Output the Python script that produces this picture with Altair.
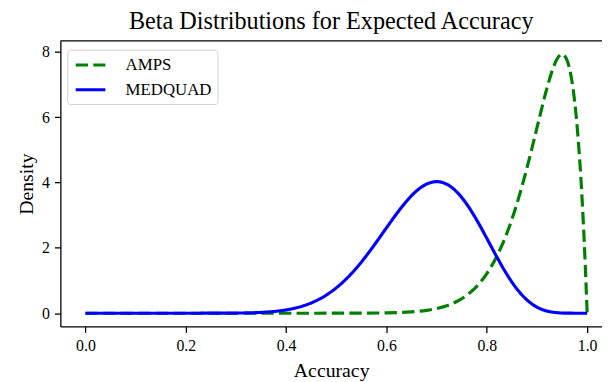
import altair as alt
import pandas as pd

# x positions read along the Accuracy axis
accuracy = [0.0, 0.1, 0.2, 0.25, 0.3, 0.35, 0.4, 0.42, 0.44, 0.46, 0.48, 0.5, 0.52, 0.54,
            0.56, 0.58, 0.6, 0.62, 0.64, 0.66, 0.68, 0.7, 0.72, 0.74, 0.76, 0.78, 0.8,
            0.82, 0.84, 0.85, 0.86, 0.87, 0.88, 0.89, 0.9, 0.91, 0.92, 0.93, 0.94, 0.95,
            0.96, 0.97, 0.98, 0.99, 0.995, 1.0]

amps = [0.0, 0.0, 0.0, 0.0, 0.0, 0.0, 0.0, 0.0, 0.0, 0.0001, 0.0002, 0.0004, 0.0008, 0.0016,
        0.003, 0.0056, 0.0102, 0.0181, 0.0314, 0.0532, 0.0883, 0.1436, 0.229, 0.3578,
        0.5481, 0.8232, 1.2107, 1.742, 2.4473, 2.8731, 3.3487, 3.8739, 4.4424, 5.0475,
        5.6737, 6.2991, 6.8923, 7.4053, 7.7771, 7.9255, 7.7352, 7.0637, 5.7226, 3.4698,
        1.9092, 0.0]

medquad = [0.0, 0.0, 0.0, 0.0005, 0.0046, 0.0254, 0.1019, 0.1647, 0.2559, 0.3833, 0.5546,
           0.7763, 1.0522, 1.3824, 1.7617, 2.1782, 2.6128, 3.0391, 3.427, 3.7415, 3.9506,
           4.0248, 3.9467, 3.7128, 3.3364, 2.8474, 2.2913, 1.7204, 1.1892, 0.9528, 0.742,
           0.5593, 0.406, 0.2822, 0.1862, 0.1155, 0.0664, 0.0347, 0.016, 0.0062, 0.0019,
           0.0002, 0.0, 0.0, 0.0, 0.0]

series = ["AMPS", "MEDQUAD"]
x_ticks = [0.0, 0.2, 0.4, 0.6, 0.8, 1.0]
y_ticks = [0, 2, 4, 6, 8]

rows = []
for name, vals in zip(series, [amps, medquad]):
    for i, (xv, yv) in enumerate(zip(accuracy, vals)):
        rows.append({"Accuracy": xv, "Density": yv, "series": name, "order": i})
df = pd.DataFrame(rows)

FONT = "Liberation Serif"
W, H = 548, 289

lines = alt.Chart(df).mark_line(strokeWidth=3.2, interpolate="monotone").encode(
    x=alt.X("Accuracy:Q", scale=alt.Scale(domain=[-0.05, 1.0296], nice=False, zero=False),
            axis=alt.Axis(values=x_ticks, format=".1f", title="Accuracy")),
    y=alt.Y("Density:Q", scale=alt.Scale(domain=[-0.405, 8.333], nice=False, zero=False),
            axis=alt.Axis(values=y_ticks, format="d", title="Density")),
    color=alt.Color("series:N", scale=alt.Scale(domain=series, range=["#008000", "#0000ff"]),
                    legend=alt.Legend(title=None)),
    strokeDash=alt.StrokeDash("series:N", scale=alt.Scale(domain=series, range=[[12.5, 5.3], [1, 0]]),
                              legend=alt.Legend(title=None)),
    order="order:Q",
)

top_spine = alt.Chart(pd.DataFrame({"k": [0]})).mark_rule(color="black", strokeWidth=1.3).encode(
    x=alt.value(0), x2=alt.value(W), y=alt.value(0)
)

chart = alt.layer(lines, top_spine).properties(
    width=W,
    height=H,
    title=alt.TitleParams("Beta Distributions for Expected Accuracy", font=FONT, fontSize=24.5,
                          fontWeight="normal", color="black", offset=6),
    autosize=alt.AutoSizeParams(type="none"),
    padding={"left": 53, "top": 31, "right": 0, "bottom": 54},
).configure_view(
    stroke=None
).configure_axis(
    grid=False, domainColor="black", domainWidth=1.3, tickColor="black", tickSize=6, tickWidth=1.3,
    labelFont=FONT, labelFontSize=16, labelColor="black", labelPadding=5,
    titleFont=FONT, titleFontSize=20, titleFontWeight="normal", titleColor="black",
).configure_axisX(titlePadding=8).configure_axisY(titlePadding=5).configure_legend(
    orient="none", legendX=7, legendY=9, padding=6, strokeColor="#d0d0d0", fillColor="white",
    cornerRadius=3, labelFont=FONT, labelFontSize=17, labelColor="black",
    symbolType="M-2,0H2", symbolSize=225, symbolStrokeWidth=3.2, symbolOffset=8,
    rowPadding=7, labelOffset=26,
)

chart.save("out.html", embed_options={"renderer": "svg", "actions": False})
